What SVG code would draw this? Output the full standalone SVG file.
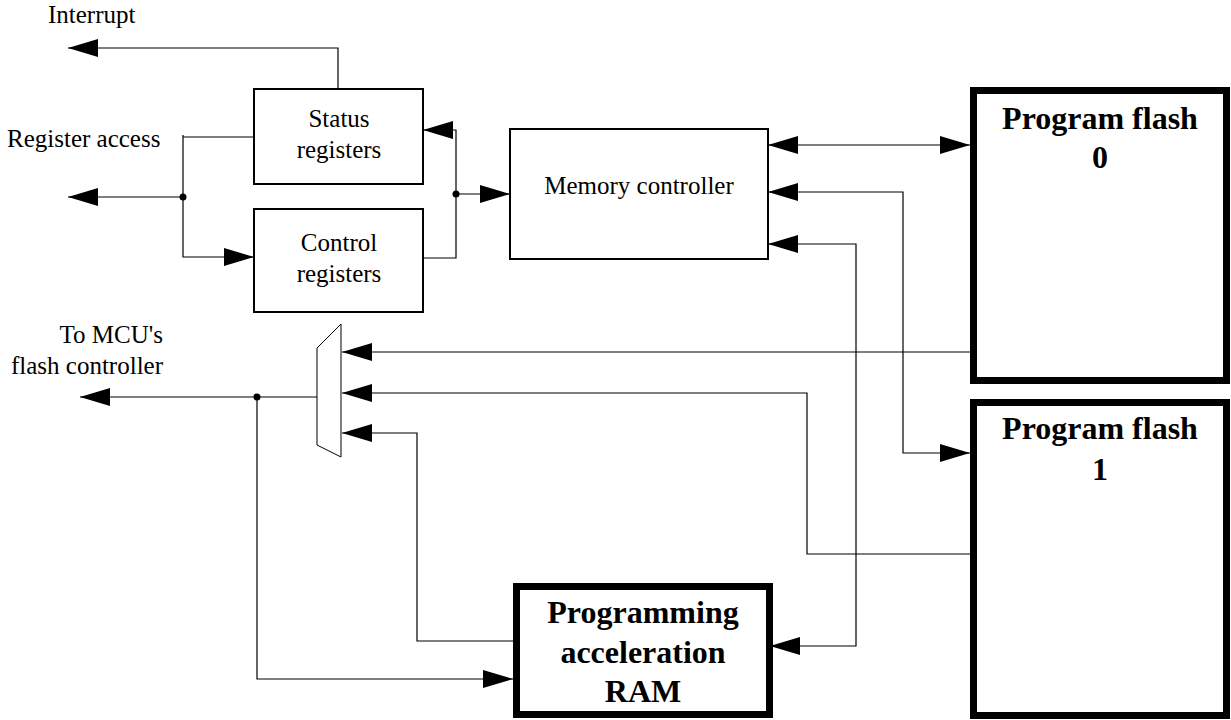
<svg xmlns="http://www.w3.org/2000/svg" width="1231" height="720" viewBox="0 0 1231 720">
<style>
.bg{fill:#fff}
.box{fill:#fff;stroke:#000;stroke-width:2}
.big{fill:#fff;stroke:#000;stroke-width:7}
.mux{fill:#fff;stroke:#000;stroke-width:1}
.wire{fill:none;stroke:#000;stroke-width:1.2}
.dot{fill:#000}
.t{font-family:"Liberation Serif","Times New Roman",serif;font-size:25px;fill:#000}
.b{font-family:"Liberation Serif","Times New Roman",serif;font-size:32px;font-weight:bold;fill:#000}
.c{text-anchor:middle}
.r{text-anchor:end}
</style>
<defs>
<marker id="ah" viewBox="0 0 30 18" refX="30" refY="9" markerWidth="30" markerHeight="18" markerUnits="userSpaceOnUse" orient="auto-start-reverse">
<path d="M0,0 L30,9 L0,18 Z" fill="#000"/>
</marker>
</defs>
<rect class="bg" x="0" y="0" width="1231" height="720"/>
<g id="connectors">
<path class="wire" d="M338,89 V48 H68" marker-end="url(#ah)"/>
<path class="wire" d="M254,137 H183"/>
<path class="wire" d="M183,135 V257 H254" marker-end="url(#ah)"/>
<path class="wire" d="M183,197 H68" marker-end="url(#ah)"/>
<path class="wire" d="M423,258 H456 V130 H423" marker-end="url(#ah)"/>
<path class="wire" d="M456,194 H510" marker-end="url(#ah)"/>
<path class="wire" d="M768,145 H970" marker-start="url(#ah)" marker-end="url(#ah)"/>
<path class="wire" d="M768,192 H903 V453 H970" marker-start="url(#ah)" marker-end="url(#ah)"/>
<path class="wire" d="M768,244 H856 V646 H770" marker-start="url(#ah)" marker-end="url(#ah)"/>
<path class="wire" d="M970,352 H342" marker-end="url(#ah)"/>
<path class="wire" d="M970,554 H807 V393 H342" marker-end="url(#ah)"/>
<path class="wire" d="M513,641 H417 V433 H342" marker-end="url(#ah)"/>
<path class="wire" d="M317,397 H80" marker-end="url(#ah)"/>
<path class="wire" d="M257,397 V679 H513" marker-end="url(#ah)"/>
<circle class="dot" cx="183" cy="197" r="3.5"/>
<circle class="dot" cx="456" cy="194" r="3.5"/>
<circle class="dot" cx="257" cy="397" r="3.5"/>
</g>
<g id="labels">
<text class="t" x="48" y="23">Interrupt</text>
<text class="t" x="7" y="147">Register access</text>
<text class="t r" x="163" y="343">To MCU's</text>
<text class="t r" x="163" y="374">flash controller</text>
</g>
<g id="status-registers">
<rect class="box" x="254" y="89" width="169" height="95"/>
<text class="t c" x="339" y="127">Status</text>
<text class="t c" x="339" y="158">registers</text>
</g>
<g id="control-registers">
<rect class="box" x="254" y="209" width="169" height="103"/>
<text class="t c" x="339" y="251">Control</text>
<text class="t c" x="339" y="282">registers</text>
</g>
<g id="memory-controller">
<rect class="box" x="510" y="129" width="258" height="130"/>
<text class="t c" x="639" y="194">Memory controller</text>
</g>
<g id="mux">
<polygon class="mux" points="341,324 317,348 317,445 341,457"/>
</g>
<g id="program-flash-0">
<rect class="big" x="973.5" y="90.5" width="253" height="290"/>
<text class="b c" x="1100" y="129">Program flash</text>
<text class="b c" x="1100" y="168">0</text>
</g>
<g id="program-flash-1">
<rect class="big" x="973.5" y="402.5" width="253" height="313"/>
<text class="b c" x="1100" y="439">Program flash</text>
<text class="b c" x="1100" y="480">1</text>
</g>
<g id="programming-acceleration-ram">
<rect class="big" x="516.5" y="586.5" width="253" height="128"/>
<text class="b c" x="643" y="623">Programming</text>
<text class="b c" x="643" y="663">acceleration</text>
<text class="b c" x="643" y="702">RAM</text>
</g>
</svg>
